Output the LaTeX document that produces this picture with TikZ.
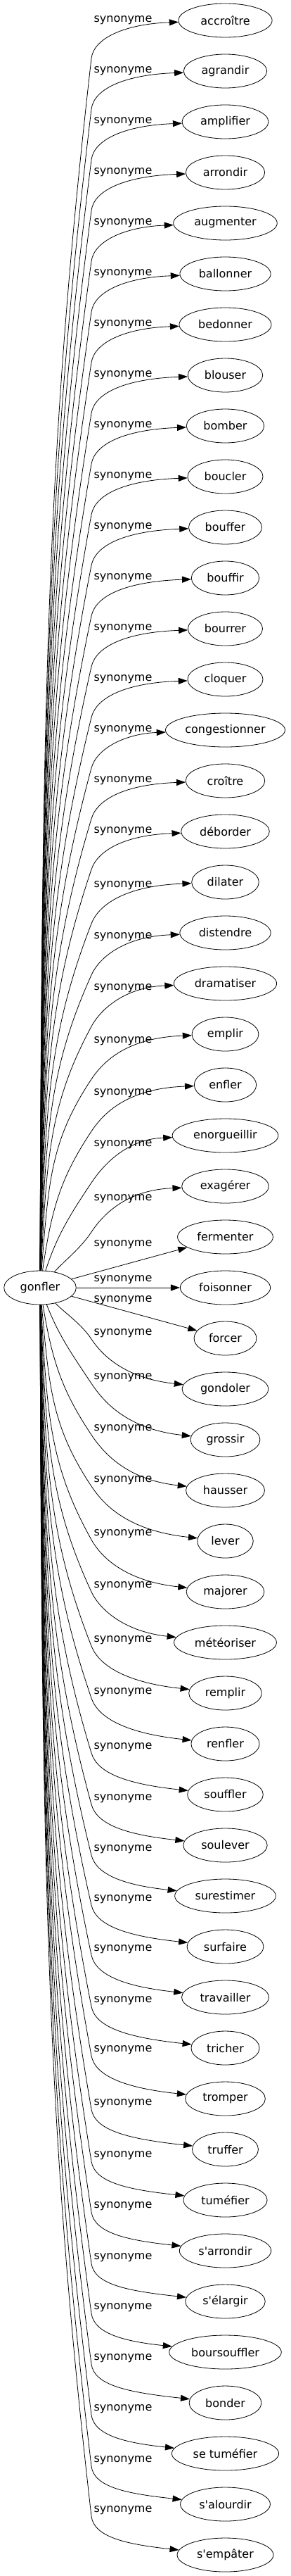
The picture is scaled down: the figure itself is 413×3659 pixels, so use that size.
\documentclass[tikz,border=0pt]{standalone}
\usepackage{fontspec}
\newfontfamily\wordfont{DejaVu Sans}
\usetikzlibrary{arrows.meta,shapes.geometric}
\tikzset{
    word/.style={draw,ellipse,line width=0.8pt,minimum height=48pt,inner ysep=2pt},
    rel/.style={inner sep=0pt,text=black},
    syn/.style={-{Triangle[length=13pt,width=9pt]},line width=0.8pt},
}
\begin{document}
\begin{tikzpicture}[x=1pt,y=-1pt, every node/.style={font=\wordfont\fontsize{16pt}{19pt}\selectfont}]
\useasboundingbox (0,0) rectangle (413,3659);
% Source word
                \node[word,inner xsep=8pt] (gonfler) at (57,1829) {gonfler};
% Synonyms: key/word/label y/bend y/xsep
                \foreach \wkey/\word/\ly/\bend/\xs [count=\i from 0] in {
                    accroitre/accroître/29/83/12,
                    agrandir/agrandir/101/155/8,
                    amplifier/amplifier/173/227/8,
                    arrondir/arrondir/245/299/8,
                    augmenter/augmenter/317/371/8,
                    ballonner/ballonner/389/443/8,
                    bedonner/bedonner/461/515/8,
                    blouser/blouser/533/587/8,
                    bomber/bomber/605/659/8,
                    boucler/boucler/677/731/8,
                    bouffer/bouffer/749/803/8,
                    bouffir/bouffir/821/875/8,
                    bourrer/bourrer/893/947/8,
                    cloquer/cloquer/965/1019/8,
                    congestionner/congestionner/1037/1091/3,
                    croitre/croître/1109/1163/14,
                    deborder/déborder/1181/1235/8,
                    dilater/dilater/1258/1312/8,
                    distendre/distendre/1331/1385/8,
                    dramatiser/dramatiser/1404/1458/8,
                    emplir/emplir/1479/1533/8,
                    enfler/enfler/1553/1607/8,
                    enorgueillir/enorgueillir/1626/1680/8,
                    exagerer/exagérer/1703/1750/8,
                    fermenter/fermenter/1768/0/8,
                    foisonner/foisonner/1818/0/8,
                    forcer/forcer/1847/0/8,
                    gondoler/gondoler/1894/1902/8,
                    grossir/grossir/1957/1965/8,
                    hausser/hausser/2030/2038/8,
                    lever/lever/2103/2111/8,
                    majorer/majorer/2179/2187/8,
                    meteoriser/météoriser/2253/2261/8,
                    remplir/remplir/2330/2338/8,
                    renfler/renfler/2404/2412/8,
                    souffler/souffler/2482/2490/8,
                    soulever/soulever/2555/2563/8,
                    surestimer/surestimer/2627/2635/8,
                    surfaire/surfaire/2698/2706/8,
                    travailler/travailler/2769/2777/8,
                    tricher/tricher/2842/2850/8,
                    tromper/tromper/2912/2920/8,
                    truffer/truffer/2988/2996/8,
                    tumefier/tuméfier/3062/3070/8,
                    sarrondir/s'arrondir/3134/3142/8,
                    selargir/s'élargir/3207/3215/8,
                    boursouffler/boursouffler/3278/3286/8,
                    bonder/bonder/3350/3358/8,
                    setumefier/se tuméfier/3422/3430/8,
                    salourdir/s'alourdir/3495/3503/8,
                    sempater/s'empâter/3566/3574/8}{
                    \pgfmathsetmacro\ny{29+72*\i}
                    \node[word,inner xsep=\xs pt] (\wkey) at (320.5,\ny) {\word};
                    \node[rel] (lab\i) at (175,\ly) {synonyme};
                    \ifdim\bend pt>0pt
% bent edge through the label column
                        \pgfmathsetmacro\s{\i<25 ? -1 : 1}
                        \pgfmathsetmacro\D{abs(\bend-1829)}
                        \pgfmathsetmacro\ax{57+36*min(1,100/\D)}
                        \pgfmathsetmacro\ay{1829+\s*0.5*\D}
                        \pgfmathsetmacro\bx{130-60*min(1,\D/300)}
                        \pgfmathsetmacro\byy{\bend-\s*0.3*\D}
                        \pgfmathsetmacro\tx{130-\bx}
                        \pgfmathsetmacro\ty{\bend-\byy}
                        \pgfmathsetmacro\r{\tx/abs(\ty)}
                        \pgfmathsetmacro\tl{abs(\ty)*sqrt(1+\r*\r)}
                        \pgfmathsetmacro\cx{130+30*\tx/\tl}
                        \pgfmathsetmacro\cy{\bend+30*\ty/\tl}
                        \pgfmathsetmacro\dy{\i<25 ? \ny+5 : \ny-15}
                        \draw[syn] (gonfler) .. controls (\ax,\ay) and (\bx,\byy) .. (130,\bend) .. controls (\cx,\cy) and (180,\dy) .. (\wkey);
                    \else
                        \draw[syn] (gonfler) -- (\wkey);
                    \fi
                }
\end{tikzpicture}
\end{document}
